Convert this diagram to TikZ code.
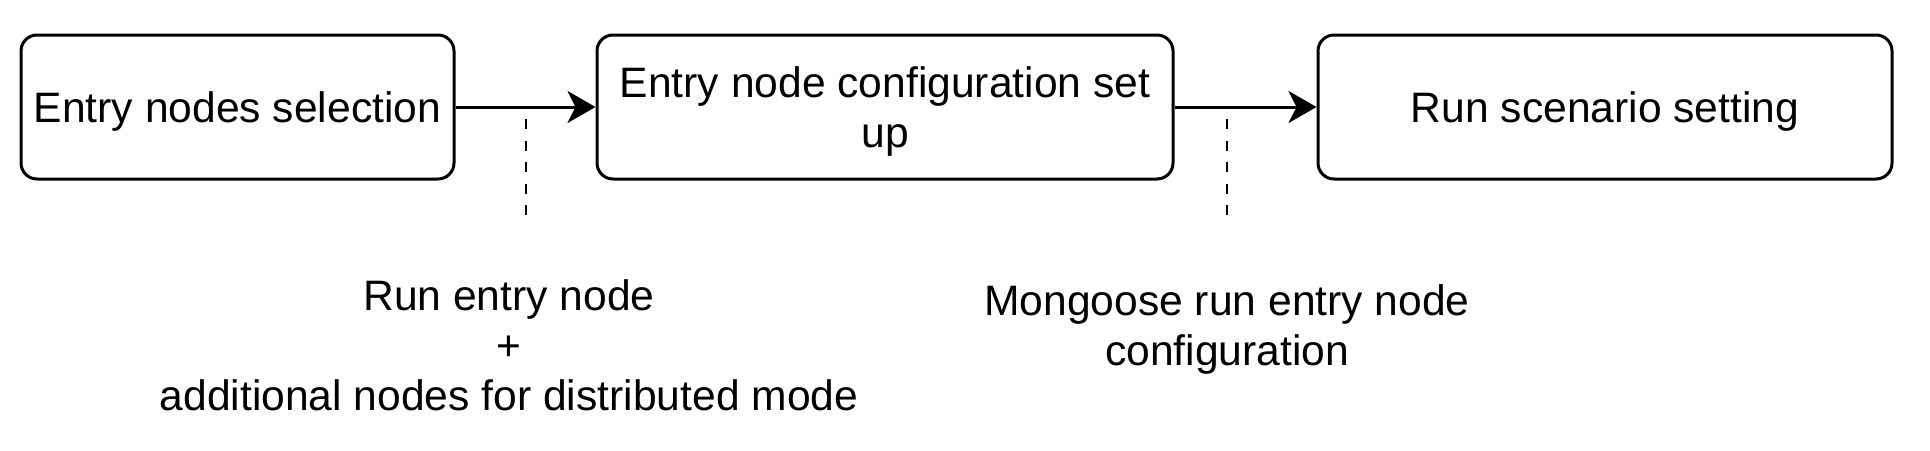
\documentclass[tikz,border=0pt]{standalone}
\usepackage{fontspec}
\setmainfont{Liberation Sans}
\usetikzlibrary{arrows.meta}
\begin{document}
\begin{tikzpicture}[x=0.5pt,y=-0.5pt,
  box/.style={draw=black, line width=1.5pt, rounded corners=8pt, minimum height=72pt, inner sep=0pt, align=center, font=\fontsize{21.3}{25}\selectfont},
  flow/.style={draw=black, line width=1.5pt, -{Stealth[length=14pt,width=16pt,inset=4pt]}},
  guide/.style={draw=black, line width=1.4pt, dash pattern=on 5pt off 5.8pt},
  lbl/.style={align=center, inner sep=0pt, font=\fontsize{21.3}{25}\selectfont}]
\useasboundingbox (0,0) rectangle (1930,450);
\node[box, minimum width=216.5pt, text depth=-3.7pt] (b1) at (237.5,107) {Entry nodes selection};
\node[box, minimum width=288pt, text depth=-0.7pt] (b2) at (885,107) {Entry node configuration set\\up};
\node[box, minimum width=287pt, text depth=-3.7pt] (b3) at (1605,107) {Run scenario setting};
\draw[flow] (b1.east) -- (b2.west);
\draw[flow] (b2.east) -- (b3.west);
\coordinate (d1a) at (526,119);
\coordinate (d1b) at (526,215);
\coordinate (d2a) at (1227,119);
\coordinate (d2b) at (1227,215);
\draw[guide] (d1a) -- (d1b);
\draw[guide] (d2a) -- (d2b);
\node[lbl, anchor=base] (l1) at (509,410) {Run entry node\\+\\additional nodes for distributed mode};
\node[lbl, anchor=base] (l2) at (1227,365) {Mongoose run entry node\\configuration};
\end{tikzpicture}
\end{document}
